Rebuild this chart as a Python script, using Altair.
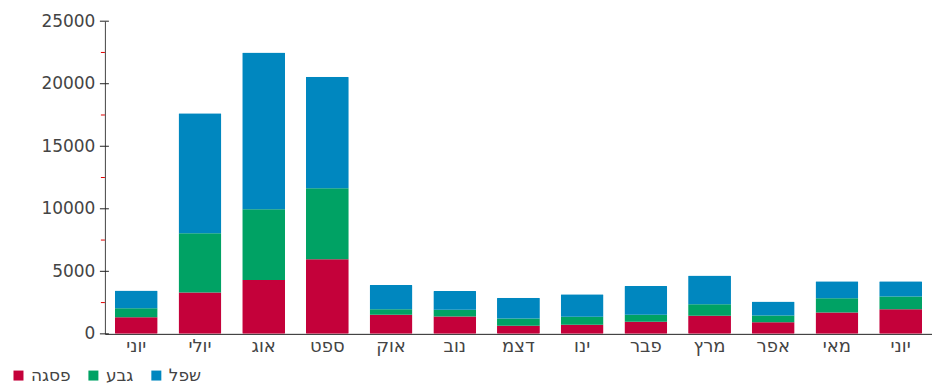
import altair as alt
import pandas as pd

months = ["יוני", "יולי", "אוג", "ספט", "אוק", "נוב", "דצמ", "ינו", "פבר", "מרץ", "אפר", "מאי", "יוני"]
series = ["פסגה", "גבע", "שפל"]
colors = ["#c4013a", "#00a264", "#0087bf"]
peak = [1330, 3300, 4310, 5960, 1520, 1380, 640, 720, 960, 1440, 930, 1700, 1970]
mid = [720, 4740, 5650, 5680, 450, 540, 580, 640, 560, 930, 530, 1150, 1010]
low = [1410, 9590, 12540, 8910, 1930, 1510, 1660, 1810, 2310, 2290, 1120, 1360, 1230]
major_ticks = [0, 5000, 10000, 15000, 20000, 25000]
minor_ticks = [2500, 7500, 12500, 17500, 22500]

rows = []
for i, m in enumerate(months):
    for j, (s, vals) in enumerate(zip(series, [peak, mid, low])):
        rows.append({"idx": i, "month": m, "series": s, "order": j, "value": vals[i]})
df = pd.DataFrame(rows)

label_expr = "[" + ",".join('"%s"' % m for m in months) + "][datum.value]"

yscale = alt.Scale(domain=[0, 25000], nice=False)
yaxis = alt.Axis(values=major_ticks, format="d", ticks=False, grid=False,
                 domainColor="#444", labelFontSize=17, labelColor="#444",
                 labelFont="DejaVu Sans", labelPadding=10)

bars = alt.Chart(df).mark_bar(cornerRadius=1).encode(
    x=alt.X("idx:O", title=None,
            scale=alt.Scale(paddingInner=0.327, paddingOuter=0.156),
            axis=alt.Axis(labelExpr=label_expr, labelAngle=0, ticks=False,
                          domainColor="#222", labelFontSize=18, labelColor="#444",
                          labelFont="DejaVu Sans", labelPadding=4)),
    y=alt.Y("value:Q", stack="zero", title=None, scale=yscale, axis=yaxis),
    color=alt.Color("series:N", scale=alt.Scale(domain=series, range=colors),
                    legend=alt.Legend(title=None, orient="none", legendX=-95, legendY=346,
                                      direction="horizontal", symbolType="square",
                                      symbolSize=100, symbolStrokeWidth=0,
                                      labelFontSize=17, labelFont="DejaVu Sans",
                                      labelColor="#444", columnPadding=14, symbolOffset=0)),
    order=alt.Order("order:Q"),
)

maj = alt.Chart(pd.DataFrame({"v": major_ticks})).mark_rule(color="#222", strokeWidth=1).encode(
    x=alt.value(-5), x2=alt.value(4), y=alt.Y("v:Q", scale=yscale, title=None, axis=yaxis))
mnr = alt.Chart(pd.DataFrame({"v": minor_ticks})).mark_rule(color="#e00000", strokeWidth=1).encode(
    x=alt.value(-4), x2=alt.value(0), y=alt.Y("v:Q", scale=yscale, title=None, axis=yaxis))

chart = alt.layer(bars, maj, mnr).properties(
    width=828, height=313,
    background="white",
    autosize=alt.AutoSizeParams(type="none"),
    padding={"left": 97, "top": 13, "right": 0, "bottom": 50},
).configure_view(stroke=None).configure_axis(grid=False)

chart.save("out.html", embed_options={"renderer": "svg", "actions": False})
